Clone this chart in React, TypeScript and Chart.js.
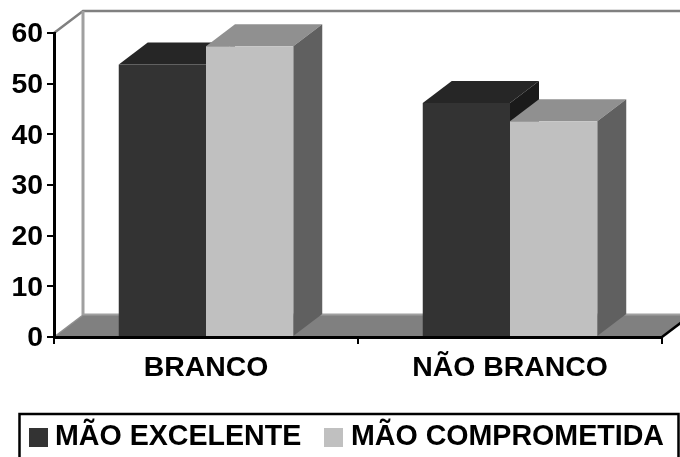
import { useEffect, useRef } from "react";
import { Chart, registerables } from "chart.js";

Chart.register(...registerables);

const categories = ["BRANCO", "NÃO BRANCO"];
const seriesNames = ["MÃO EXCELENTE", "MÃO COMPROMETIDA"];
const excelente = [53.8, 46.2];
const comprometida = [57.4, 42.6];
const yTicks = { min: 0, max: 60, step: 10 };

// Face colours of the extruded bars, per series.
const frontColors = ["#333333", "#c0c0c0"];
const topColors = ["#262626", "#909090"];
const sideColors = ["#1a1a1a", "#606060"];

// Oblique projection offset of the chart box.
const DEPTH_X = 29;
const DEPTH_Y = 22;

const FONT = { family: "'Liberation Sans', Arial, sans-serif", size: 28.4, weight: "bold" as const };
const LEGEND_FONT_SIZE = 28.6;

const poly = (ctx: CanvasRenderingContext2D, pts: number[][], fill?: string, stroke?: string, lw = 1) => {
  ctx.beginPath();
  pts.forEach(([x, y], i) => (i ? ctx.lineTo(x, y) : ctx.moveTo(x, y)));
  if (fill) {
    ctx.closePath();
    ctx.fillStyle = fill;
    ctx.fill();
  }
  if (stroke) {
    ctx.strokeStyle = stroke;
    ctx.lineWidth = lw;
    ctx.stroke();
  }
};

// Back wall, floor and the top and side faces of every bar.
const box3d = {
  id: "box3d",
  beforeDatasetsDraw(chart: any) {
    const { ctx, chartArea: a } = chart;
    ctx.save();
    const bx = a.left + DEPTH_X;
    const tx = a.right + DEPTH_X;
    const ty = a.top - DEPTH_Y;
    const by = a.bottom - DEPTH_Y;
    poly(ctx, [[a.left, a.bottom], [bx, by], [tx, by], [a.right, a.bottom]], "#808080");
    poly(ctx, [[bx, by - 0.5], [tx, by - 0.5]], undefined, "#a0a0a0", 2);
    poly(ctx, [[a.left, a.bottom], [bx, by]], undefined, "#909090", 1.5);
    poly(ctx, [[a.left, a.top], [bx, ty], [tx, ty]], undefined, "#808080", 2.5);
    poly(ctx, [[bx, ty], [bx, by]], undefined, "#a0a0a0", 3);
    poly(ctx, [[a.right, a.bottom], [tx, by]], undefined, "#000000", 2.5);

    categories.forEach((_, j) => {
      chart.data.datasets.forEach((_d: any, i: number) => {
        const bar = chart.getDatasetMeta(i).data[j];
        const l = bar.x - bar.width / 2;
        const r = bar.x + bar.width / 2;
        const t = bar.y;
        const b = bar.base;
        poly(ctx, [[l, t], [l + DEPTH_X, t - DEPTH_Y], [r + DEPTH_X, t - DEPTH_Y], [r, t]], topColors[i]);
        poly(ctx, [[r, t], [r + DEPTH_X, t - DEPTH_Y], [r + DEPTH_X, b - DEPTH_Y], [r, b]], sideColors[i]);
      });
    });
    ctx.restore();
  },
};

// Framed legend row; the frame's lower edge runs past the canvas.
const LEGEND_SWATCH_X = [29, 324];
const LEGEND_TEXT_X = [55, 351];
const framedLegend = {
  id: "framedLegend",
  afterDraw(chart: any) {
    const { ctx } = chart;
    ctx.save();
    ctx.strokeStyle = "#000000";
    ctx.lineWidth = 2.5;
    ctx.strokeRect(19.5, 414, 659, 60);
    ctx.font = `${FONT.weight} ${LEGEND_FONT_SIZE}px ${FONT.family}`;
    ctx.textBaseline = "middle";
    ctx.textAlign = "left";
    chart.data.datasets.forEach((d: any, i: number) => {
      ctx.fillStyle = d.backgroundColor;
      ctx.fillRect(LEGEND_SWATCH_X[i], 428, 19, 19);
      ctx.fillStyle = "#000000";
      ctx.fillText(d.label, LEGEND_TEXT_X[i], 437);
    });
    ctx.restore();
  },
};

export default function App() {
  const ref = useRef<HTMLCanvasElement>(null);

  useEffect(() => {
    const chart = new Chart(ref.current!, {
      type: "bar",
      data: {
        labels: categories,
        datasets: [
          { label: seriesNames[0], data: excelente, backgroundColor: frontColors[0] },
          { label: seriesNames[1], data: comprometida, backgroundColor: frontColors[1] },
        ],
      },
      plugins: [box3d, framedLegend],
      options: {
        animation: false,
        responsive: false,
        layout: { padding: { left: 0, top: 33, right: 18, bottom: 0 } },
        datasets: { bar: { categoryPercentage: 0.574, barPercentage: 1, borderWidth: 0 } },
        scales: {
          x: {
            grid: { display: true, drawOnChartArea: false, tickLength: 7, color: "#000000", lineWidth: 2 },
            border: { display: true, color: "#000000", width: 3, z: 1 },
            ticks: { color: "#000000", font: FONT, padding: 7, maxRotation: 0 },
            afterFit: (s: any) => {
              s.height = 120;
            },
          },
          y: {
            min: yTicks.min,
            max: yTicks.max,
            grid: { display: true, drawOnChartArea: false, tickLength: 7, color: "#000000", lineWidth: 2 },
            border: { display: true, color: "#000000", width: 3, z: 1 },
            ticks: { color: "#000000", font: FONT, stepSize: yTicks.step, padding: 4, labelOffset: 1.5 },
            afterFit: (s: any) => {
              s.width = 54;
            },
          },
        },
        plugins: {
          tooltip: { enabled: false },
          title: { display: false },
          legend: { display: false },
        },
      },
    } as any);
    return () => chart.destroy();
  }, []);

  return (
    <div style={{ position: "absolute", left: 0, top: 0, width: 680, height: 457, background: "#ffffff" }}>
      <canvas ref={ref} width={680} height={457} style={{ display: "block" }} />
    </div>
  );
}
